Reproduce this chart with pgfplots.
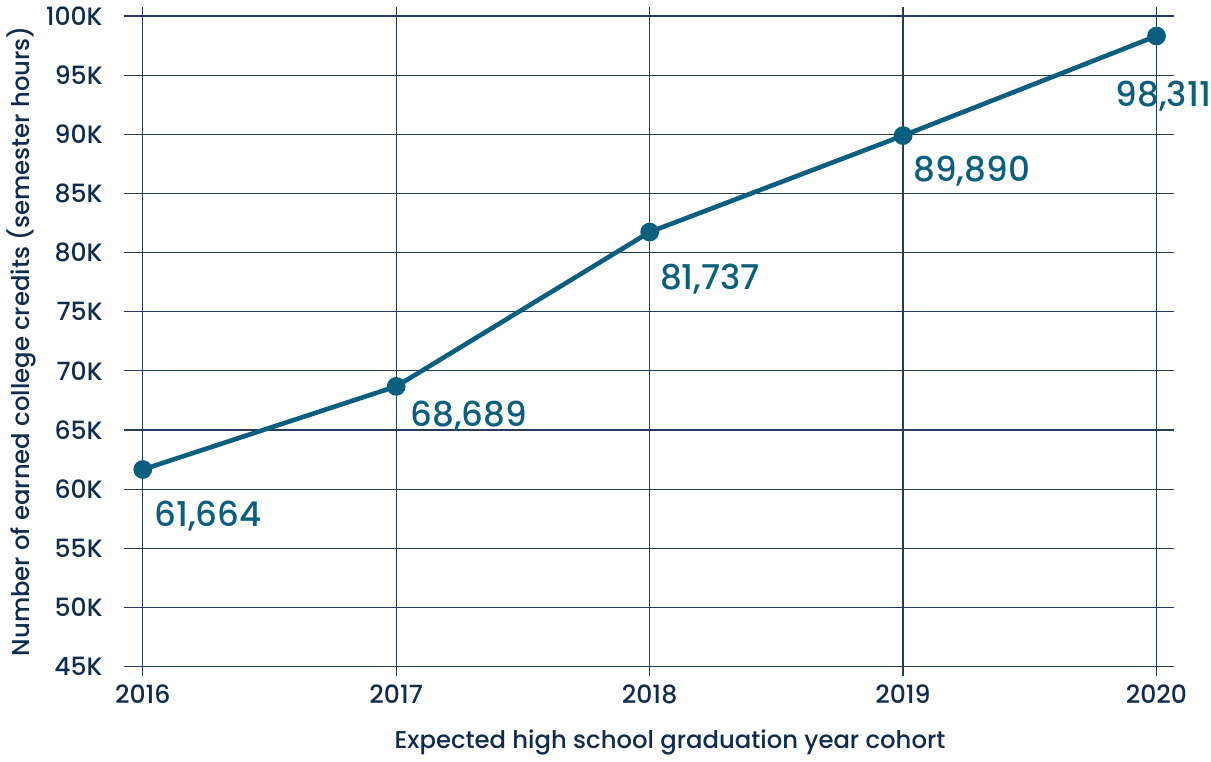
\documentclass[border=0pt]{standalone}
\usepackage{pgfplots}
\pgfplotsset{compat=1.18}
\usepackage{fontspec}
\setmainfont{Poppins}[UprightFont=* Medium]
\definecolor{navy}{HTML}{102C4C}
\definecolor{gridc}{HTML}{233D5E}
\definecolor{teal}{HTML}{0A5E7E}

\begin{document}
\begin{tikzpicture}
  \begin{axis}[
      scale only axis,
      width=523pt, height=333pt,
      xmin=2015.925, xmax=2020.07,
      ymin=44230, ymax=100770,
      xtick={2016,...,2020},
      ytick={45000,50000,...,100000},
      scaled y ticks=false,
      scaled x ticks=false,
      yticklabels={45K,50K,55K,60K,65K,70K,75K,80K,85K,90K,95K,100K},
      xticklabels={2016,2017,2018,2019,2020},
      axis line style={draw=none},
      major tick length=0pt,
      grid=major,
      major grid style={gridc, line width=0.6pt},
      ticklabel style={font=\fontsize{12.5}{14}\selectfont, text=navy},
      yticklabel style={xshift=-7pt},
      xticklabel style={yshift=-1pt},
      xlabel={Expected high school graduation year cohort},
      ylabel={Number of earned college credits (semester hours)},
      label style={font=\fontsize{12.1}{14}\selectfont, text=navy},
      xlabel style={at={(ticklabel cs:0.52)}, anchor=near ticklabel, yshift=-6pt},
      ylabel style={yshift=-2pt},
      clip=false,
    ]
    \addplot[teal, line width=2.3pt, mark=*, mark size=3.5pt,
      mark options={fill=teal, draw=teal},
      point meta=y,
      visualization depends on={\thisrow{dx}\as\dx},
      visualization depends on={\thisrow{dy}\as\dy},
      nodes near coords={\pgfmathprintnumber[fixed,precision=0,1000 sep={,},assume math mode=true]{\pgfplotspointmeta}},
      every node near coord/.style={anchor=north west, inner sep=0pt,
        xshift=\dx pt, yshift=\dy pt, text=teal,
        font=\fontsize{17}{20}\selectfont},
    ] table[x=year, y=credits] {
      year credits dx dy
      2016 61664 4.5 -14.5
      2017 68689 6 -6
      2018 81737 4 -15
      2019 89890 4 -9
      2020 98311 -21.5 -21.5
    };
  \end{axis}
\end{tikzpicture}
\end{document}
